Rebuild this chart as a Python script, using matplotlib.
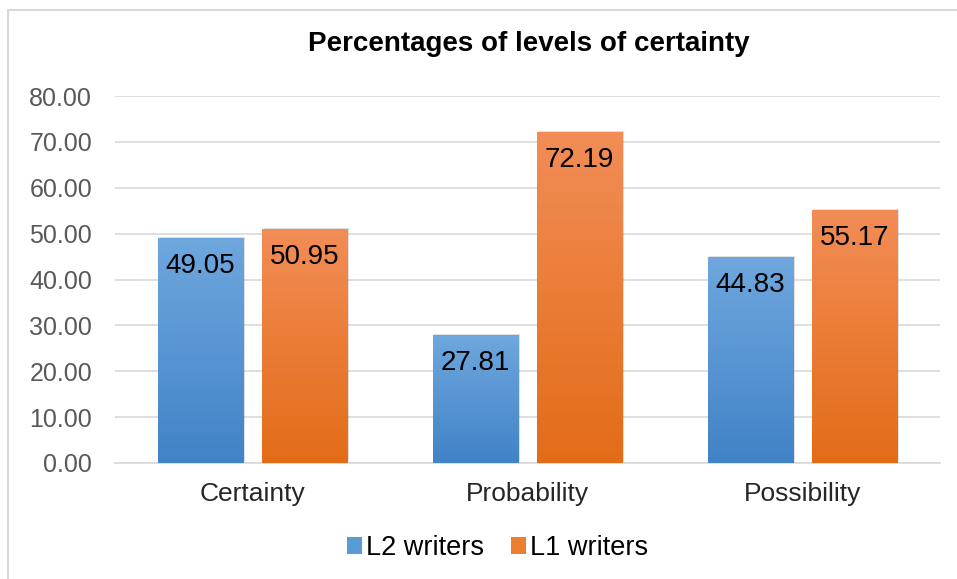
import numpy as np
import matplotlib.pyplot as plt
from matplotlib.colors import LinearSegmentedColormap
from matplotlib.patches import Rectangle

plt.rcParams['font.family'] = ['Liberation Sans', 'DejaVu Sans']

categories = ['Certainty', 'Probability', 'Possibility']
l2_writers = [49.05, 27.81, 44.83]
l1_writers = [50.95, 72.19, 55.17]
series_names = ['L2 writers', 'L1 writers']
yticks = [0, 10, 20, 30, 40, 50, 60, 70, 80]

blue_top, blue_bot = '#6fa7de', '#4183c7'
orange_top, orange_bot = '#f28d57', '#e36c17'


def gradient_bar(ax, x, w, h, top, bot):
    cmap = LinearSegmentedColormap.from_list('g', [bot, top])
    # soft shadow
    ax.add_patch(Rectangle((x + 0.006, 0), w, h + 0.25, color='#000000',
                           alpha=0.12, lw=0, zorder=2))
    bar = Rectangle((x, 0), w, h, facecolor='none', lw=0, zorder=3)
    ax.add_patch(bar)
    grad = np.linspace(0, 1, 256).reshape(-1, 1)
    im = ax.imshow(grad, extent=(x, x + w, 0, h), origin='lower', cmap=cmap,
                   aspect='auto', zorder=3)
    im.set_clip_path(bar)


fig = plt.figure(figsize=(9.57, 5.79), dpi=100)
fig.patches.append(Rectangle((8 / 957, -0.01), 1.0, 1 - 10.5 / 579 + 0.01,
                             transform=fig.transFigure, fill=False,
                             edgecolor='#d9d9d9', lw=1.5))
ax = fig.add_axes([115 / 957, 1 - 463 / 579, 825 / 957, (463 - 96) / 579])

x = np.arange(len(categories))
w = 0.31
off = 0.19
for i in range(len(categories)):
    gradient_bar(ax, x[i] - off - w / 2, w, l2_writers[i], blue_top, blue_bot)
    gradient_bar(ax, x[i] + off - w / 2, w, l1_writers[i], orange_top, orange_bot)
    ax.text(x[i] - off, l2_writers[i] - 6.1, f'{l2_writers[i]:.2f}', ha='center',
            va='center', fontsize=20, color='black', zorder=5)
    ax.text(x[i] + off, l1_writers[i] - 6.1, f'{l1_writers[i]:.2f}', ha='center',
            va='center', fontsize=20, color='black', zorder=5)

ax.set_xlim(-0.5, 2.5)
ax.set_ylim(0, 80)
ax.set_yticks(yticks)
ax.set_yticklabels([f'{v:.2f}' for v in yticks], fontsize=18, color='#595959')
ax.set_xticks(x)
ax.set_xticklabels(categories, fontsize=19, color='#262626')
ax.tick_params(axis='both', length=0)
ax.tick_params(axis='x', pad=14)
ax.tick_params(axis='y', pad=16.5)
ax.grid(axis='y', color='#d9d9d9', lw=1.2, zorder=0)
ax.set_axisbelow(True)
for s in ['top', 'right', 'left']:
    ax.spines[s].set_visible(False)
ax.spines['bottom'].set_color('#d9d9d9')
ax.spines['bottom'].set_linewidth(1.2)

fig.text(0.553, 1 - 44 / 579, 'Percentages of levels of certainty', ha='center',
         va='center', fontsize=20, fontweight='bold')

handles = [Rectangle((0, 0), 1, 1, facecolor='#5b9bd5'),
           Rectangle((0, 0), 1, 1, facecolor='#ed7d31')]
fig.legend(handles, series_names, loc='center', bbox_to_anchor=(0.52, 1 - 548 / 579),
           ncol=2, frameon=False, fontsize=19.5, handlelength=0.55, handleheight=0.55,
           handletextpad=0.15, columnspacing=1.0)

fig.savefig('out.png', dpi=100)
